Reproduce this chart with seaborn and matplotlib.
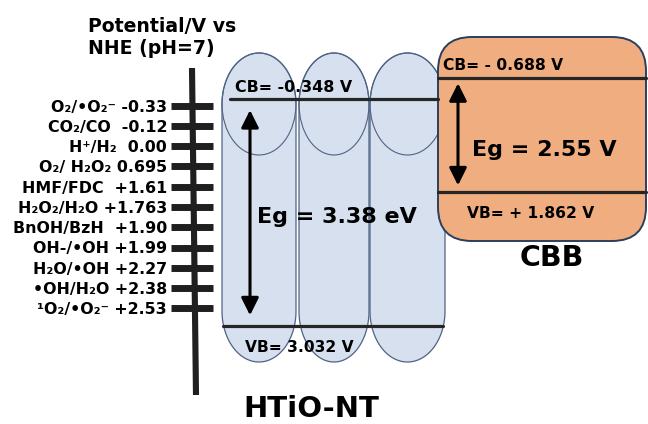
import numpy as np
import matplotlib
matplotlib.use("Agg")
import matplotlib.pyplot as plt
import seaborn as sns
from matplotlib.patches import Ellipse, FancyBboxPatch, Polygon

# Redox couples on the NHE scale (pH 7), listed from top to bottom of the ladder
couples = ["O₂/•O₂⁻", "CO₂/CO ", "H⁺/H₂ ", "O₂/ H₂O₂", "HMF/FDC ", "H₂O₂/H₂O",
           "BnOH/BzH ", "OH-/•OH", "H₂O/•OH", "•OH/H₂O", "¹O₂/•O₂⁻"]
couple_potentials = ["-0.33", "-0.12", "0.00", "0.695", "+1.61", "+1.763",
                     "+1.90", "+1.99", "+2.27", "+2.38", "+2.53"]

# Band edges, V vs NHE
htio_cb, htio_vb = -0.348, 3.032
cbb_cb, cbb_vb = -0.688, 1.862

sns.set_theme(style="white")
plt.rcParams["font.family"] = ["DejaVu Sans"]
plt.rcParams["text.color"] = "black"

W, H = 648, 424
fig = plt.figure(figsize=(W / 100, H / 100), dpi=100)

DARK = "#1f1f1f"
TUBE_FILL = "#d6e0ef"
TUBE_EDGE = "#4f6385"
CBB_FILL = "#f0ae80"
CBB_EDGE = "#2c3e5e"


def overlay(ylim):
    a = fig.add_axes([0, 0, 1, 1])
    a.set_xlim(0, W)
    a.set_ylim(*ylim)
    a.axis("off")
    a.patch.set_alpha(0)
    return a


# canvas in pixel units (y downwards) for the drawn shapes
ax = overlay((H, 0))

# nanotube columns: stadium outline plus the open top ellipse
columns = [(222, 296), (299, 369), (370, 445)]
y_top, y_bot, cap = 104, 311, 51
for x0, x1 in columns:
    a_half = (x1 - x0) / 2
    xc = (x0 + x1) / 2
    t_top = np.linspace(np.pi, 2 * np.pi, 80)
    t_bot = np.linspace(0, np.pi, 80)
    verts = np.vstack([
        np.column_stack([xc + a_half * np.cos(t_top), y_top + cap * np.sin(t_top)]),
        np.column_stack([xc + a_half * np.cos(t_bot), y_bot + cap * np.sin(t_bot)]),
    ])
    ax.add_patch(Polygon(verts, closed=True, fc=TUBE_FILL, ec=TUBE_EDGE, lw=0.9, zorder=1))
    ax.add_patch(Ellipse((xc, y_top), 2 * a_half, 2 * cap, fill=False,
                         ec=TUBE_EDGE, lw=0.8, zorder=2))

# CBB block
ax.add_patch(FancyBboxPatch((438, 37), 208, 204,
                            boxstyle="round,pad=0,rounding_size=34",
                            fc=CBB_FILL, ec=CBB_EDGE, lw=1.4, zorder=3))

# potential ladder axis
ax.plot([192, 196], [68, 395], color=DARK, lw=4.4, solid_capstyle="butt", zorder=4)

ax.text(88, 32, "Potential/V vs", fontsize=13.6, fontweight="bold",
        ha="left", va="baseline")
ax.text(88, 54, "NHE (pH=7)", fontsize=13.6, fontweight="bold",
        ha="left", va="baseline")
ax.text(551.5, 266, "CBB", fontsize=20.5, fontweight="bold", ha="center", va="baseline")
ax.text(311.5, 417, "HTiO-NT", fontsize=21, fontweight="bold", ha="center", va="baseline")

# redox ladder, one slot per couple
ax_r = overlay((15.711, -5.217))
idx = np.arange(len(couples))
ax_r.hlines(idx, 171, 213, color=DARK, lw=5, zorder=5)
for i, (c, p) in enumerate(zip(couples, couple_potentials)):
    ax_r.annotate(f"{c} {p}", xy=(167, i), xytext=(0, -4.3), textcoords="offset points",
                  ha="right", va="baseline", fontsize=11.4, fontweight="bold")
ax_r.set_xlim(0, W)
ax_r.set_ylim(15.711, -5.217)


def band_edge(a, x0, x1, e):
    sns.lineplot(x=[x0, x1], y=[e, e], ax=a, color="#262626", lw=2.3,
                 legend=False, estimator=None)


def gap_arrow(a, x, e0, e1, s0, s1):
    a.annotate("", xy=(x, e1), xytext=(x, e0),
               arrowprops=dict(arrowstyle="<|-|>,head_length=0.7,head_width=0.35",
                               lw=2.2, color="black", shrinkA=s0, shrinkB=s1,
                               mutation_scale=15))


# HTiO-NT bands on their own potential scale
ax_t = overlay((4.4912, -1.8221))
band_edge(ax_t, 230, 438, htio_cb)
band_edge(ax_t, 223, 443, htio_vb)
gap_arrow(ax_t, 250, htio_cb, htio_vb, 8, 7.7)
ax_t.annotate(f"CB= {htio_cb:.3f} V", xy=(235, htio_cb), xytext=(0, 5),
              textcoords="offset points", ha="left", va="baseline",
              fontsize=11.4, fontweight="bold")
ax_t.annotate(f"VB= {htio_vb:.3f} V", xy=(245, htio_vb), xytext=(0, -18.7),
              textcoords="offset points", ha="left", va="baseline",
              fontsize=11.2, fontweight="bold")
ax_t.annotate(f"Eg = {htio_vb - htio_cb:.2f} eV", xy=(336.5, (htio_cb + htio_vb) / 2),
              xytext=(0, -7.5), textcoords="offset points", ha="center", va="baseline",
              fontsize=16, fontweight="bold")
ax_t.set_xlim(0, W)
ax_t.set_ylim(4.4912, -1.8221)
ax_t.axis("off")

# CBB bands on their own potential scale
ax_c = overlay((7.0440, -2.4393))
band_edge(ax_c, 438, 646, cbb_cb)
band_edge(ax_c, 438, 646, cbb_vb)
gap_arrow(ax_c, 458, cbb_cb, cbb_vb, 3.6, 5)
ax_c.annotate(f"CB= - {abs(cbb_cb):.3f} V", xy=(443, cbb_cb), xytext=(0, 6),
              textcoords="offset points", ha="left", va="baseline",
              fontsize=11.2, fontweight="bold")
ax_c.annotate(f"VB= + {cbb_vb:.3f} V", xy=(467, cbb_vb), xytext=(0, -18.3),
              textcoords="offset points", ha="left", va="baseline",
              fontsize=11.2, fontweight="bold")
ax_c.annotate(f"Eg = {cbb_vb - cbb_cb:.2f} V", xy=(472, (cbb_cb + cbb_vb) / 2),
              xytext=(0, -14.9), textcoords="offset points", ha="left", va="baseline",
              fontsize=16, fontweight="bold")
ax_c.set_xlim(0, W)
ax_c.set_ylim(7.0440, -2.4393)
ax_c.axis("off")

fig.savefig("out.png", dpi=100, facecolor="white")
